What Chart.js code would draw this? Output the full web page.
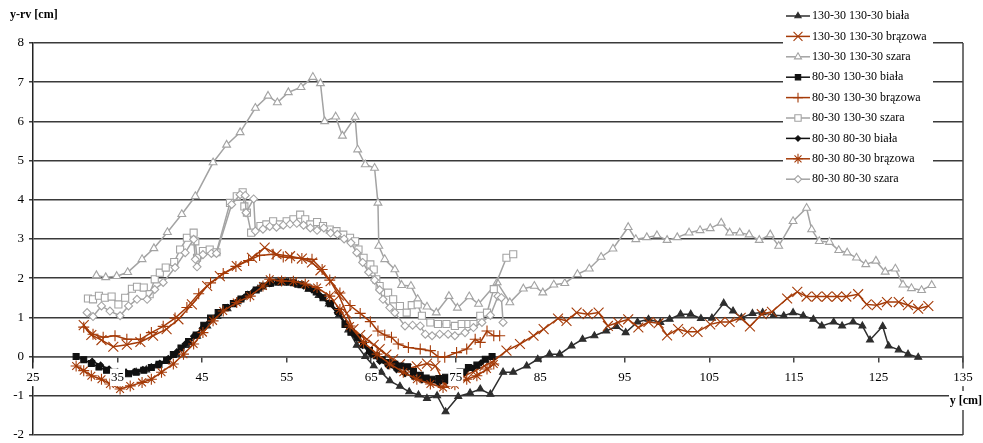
<!DOCTYPE html>
<html>
<head>
<meta charset="utf-8">
<script src="https://cdn.jsdelivr.net/npm/chart.js@4/dist/chart.umd.min.js"></script>
<style>
  body { margin: 0; background: #fff; }
  canvas { display: block; }
</style>
</head>
<body>
<canvas id="myChart" width="983" height="443"></canvas>
<script>
// pomiary: [y (cm), y-rv (cm)]
const s130_130_biala = [
  [36.0,-0.42],[37.2,-0.40],[38.4,-0.34],[39.6,-0.24],[40.8,-0.12],[42.0,0.05],[43.2,0.28],[44.4,0.52],
  [45.6,0.78],[46.8,1.02],[48.0,1.22],[49.2,1.40],[50.4,1.56],[51.6,1.72],[52.8,1.84],[54.0,1.88],
  [55.2,1.88],[56.4,1.82],[57.6,1.72],[58.8,1.56],[60.0,1.34],[61.2,1.06],[62.3,0.68],[63.3,0.29],
  [64.3,0.00],[65.3,-0.24],[66.2,-0.40],[67.2,-0.62],[68.4,-0.76],[69.5,-0.90],[70.6,-0.98],[71.6,-1.07],
  [72.8,-1.00],[73.8,-1.41],[75.3,-1.02],[76.7,-0.93],[77.9,-0.83],[79.1,-0.96],[80.6,-0.40],[81.8,-0.40],
  [83.4,-0.24],[84.7,-0.07],[86.1,0.06],[87.3,0.06],[88.7,0.27],[90.0,0.44],[91.4,0.53],[92.8,0.65],
  [94.0,0.77],[95.1,0.61],[96.5,0.88],[97.8,0.95],[99.2,0.87],[100.3,0.95],[101.6,1.08],[102.8,1.08],
  [104.0,0.97],[105.3,0.98],[106.7,1.36],[107.8,1.16],[108.8,0.99],[110.1,1.10],[111.3,1.12],[112.6,1.05],
  [113.8,1.04],[114.9,1.12],[116.1,1.04],[117.3,0.95],[118.3,0.78],[119.7,0.88],[120.7,0.78],[122.0,0.88],
  [123.1,0.78],[124.0,0.42],[125.5,0.77],[126.2,0.27],[127.4,0.17],[128.5,0.06],[129.7,-0.02]
];
const s130_130_brazowa = [
  [31.0,0.80],[31.9,0.55],[33.1,0.42],[34.5,0.25],[36.1,0.30],[37.7,0.37],[39.2,0.53],[40.8,0.70],
  [42.2,0.95],[43.8,1.33],[45.6,1.80],[47.1,2.05],[49.1,2.31],[50.9,2.52],[52.4,2.78],[53.8,2.61],
  [55.4,2.56],[56.8,2.50],[58.0,2.40],[59.0,2.20],[60.2,1.92],[61.2,1.55],[62.1,1.10],[62.9,0.70],
  [63.7,0.55],[64.5,0.44],[65.3,0.30],[66.0,0.19],[66.8,0.05],[67.6,-0.07],[68.4,-0.20],[69.2,-0.32],
  [70.4,-0.25],[71.6,-0.18],[72.6,-0.24],[73.7,-0.70],[74.8,-0.62],[76.0,-0.50],[77.3,-0.36],[78.4,-0.24],
  [79.5,-0.11],[81.0,0.15],[82.6,0.32],[84.2,0.53],[85.4,0.70],[87.1,0.97],[88.1,0.91],[89.3,1.12],
  [90.6,1.08],[91.9,1.12],[93.0,0.78],[94.2,0.87],[95.4,0.95],[96.6,0.74],[97.8,0.88],[99.0,0.85],
  [100.0,0.54],[101.3,0.70],[102.4,0.63],[103.6,0.63],[105.1,0.82],[106.3,0.88],[107.4,0.88],[108.7,0.99],
  [109.8,0.77],[111.2,1.08],[112.4,1.14],[114.2,1.48],[115.4,1.65],[116.5,1.53],[117.7,1.53],[118.9,1.53],
  [120.1,1.53],[121.2,1.53],[122.6,1.59],[123.6,1.33],[124.8,1.31],[126.0,1.39],[127.4,1.39],[128.5,1.31],
  [129.7,1.22],[130.9,1.29]
];
const s130_130_szara = [
  [32.5,2.07],[33.6,2.02],[34.9,2.05],[36.2,2.15],[37.9,2.48],[39.3,2.76],[40.9,3.17],[42.6,3.63],
  [44.2,4.09],[46.3,4.95],[47.9,5.40],[49.5,5.72],[51.3,6.34],[52.8,6.65],[53.9,6.48],[55.2,6.74],
  [56.7,6.87],[58.1,7.13],[59.0,6.97],[59.5,6.00],[60.8,6.12],[61.6,5.63],[63.1,6.11],[63.4,5.28],
  [64.3,4.90],[65.4,4.81],[65.8,3.92],[65.9,2.82],[66.6,2.48],[67.8,2.22],[68.6,1.82],[69.7,1.80],
  [70.5,1.46],[71.6,1.27],[72.7,1.12],[74.2,1.54],[75.2,1.24],[76.6,1.53],[77.7,1.34],[79.9,1.89],
  [81.4,1.38],[83.0,1.73],[84.3,1.80],[85.3,1.63],[86.6,1.83],[87.9,1.87],[89.4,2.10],[90.8,2.24],
  [92.2,2.54],[93.6,2.75],[95.4,3.30],[96.3,2.99],[97.6,3.04],[98.8,3.09],[100.0,2.97],[101.2,3.04],
  [102.6,3.16],[103.9,3.22],[105.1,3.27],[106.4,3.41],[107.4,3.16],[108.6,3.16],[109.7,3.11],[110.9,2.97],
  [112.2,3.11],[113.2,2.82],[114.9,3.45],[116.5,3.79],[117.1,3.24],[118.0,2.94],[119.2,2.92],[120.3,2.71],
  [121.3,2.65],[122.4,2.52],[123.5,2.35],[124.7,2.44],[125.8,2.16],[127.0,2.24],[127.9,1.83],[128.9,1.74],
  [130.1,1.69],[131.3,1.82]
];
const s80_130_biala = [
  [30.1,0.00],[31.0,-0.08],[31.9,-0.18],[32.8,-0.27],[33.7,-0.35],[34.6,-0.40],[35.5,-0.43],[36.3,-0.44],
  [37.2,-0.40],[38.1,-0.35],[39.0,-0.28],[39.9,-0.20],[40.8,-0.10],[41.6,0.05],[42.5,0.22],[43.4,0.38],
  [44.3,0.55],[45.2,0.80],[46.0,0.98],[46.9,1.12],[47.8,1.25],[48.7,1.35],[49.6,1.47],[50.5,1.58],
  [51.4,1.70],[52.2,1.80],[53.1,1.87],[54.0,1.90],[54.9,1.90],[55.8,1.88],[56.7,1.83],[57.6,1.75],
  [58.5,1.65],[59.3,1.50],[60.2,1.35],[61.1,1.15],[61.9,0.82],[62.6,0.62],[63.4,0.48],[64.1,0.30],
  [64.8,0.15],[65.6,0.02],[66.3,-0.08],[67.0,-0.15],[67.8,-0.20],[68.5,-0.24],[69.3,-0.26],[70.0,-0.38],
  [70.8,-0.48],[71.5,-0.55],[72.2,-0.58],[73.0,-0.56],[73.8,-0.53],[74.6,-0.45],[75.5,-0.38],[76.5,-0.28],
  [77.5,-0.22],[78.5,-0.07],[79.3,0.00]
];
const s80_130_brazowa = [
  [31.0,0.75],[32.1,0.57],[33.3,0.49],[34.7,0.53],[36.1,0.44],[37.7,0.44],[39.0,0.61],[40.4,0.77],
  [41.8,0.98],[43.2,1.25],[44.6,1.60],[46.0,1.88],[47.5,2.12],[49.0,2.30],[50.5,2.45],[51.8,2.58],
  [53.4,2.61],[54.6,2.54],[55.6,2.52],[56.8,2.50],[58.0,2.48],[59.2,2.22],[60.1,1.95],[61.3,1.62],
  [62.5,1.30],[63.7,1.10],[64.9,0.89],[65.8,0.65],[66.6,0.55],[67.4,0.49],[68.2,0.32],[69.4,0.23],
  [70.8,0.19],[72.0,0.15],[72.9,0.00],[73.7,-0.02],[75.1,0.10],[76.3,0.19],[77.3,0.44],[77.9,0.36],
  [78.7,0.65],[79.5,0.53],[80.2,0.53]
];
const s80_130_szara = [
  [31.5,1.48],[32.1,1.46],[32.8,1.55],[33.5,1.50],[34.3,1.53],[35.1,1.33],[35.9,1.50],[36.7,1.73],
  [37.3,1.78],[38.1,1.76],[38.8,1.59],[39.4,1.97],[40.0,2.14],[40.7,2.27],[41.7,2.41],[42.4,2.73],
  [43.2,3.03],[44.0,3.16],[44.2,2.94],[44.4,2.52],[45.1,2.69],[45.9,2.73],[46.7,2.66],[48.3,3.92],
  [49.1,4.09],[49.8,4.19],[50.0,3.83],[50.3,3.67],[50.8,3.16],[51.9,3.33],[52.6,3.37],[53.4,3.45],
  [54.2,3.37],[55.0,3.45],[55.8,3.50],[56.6,3.62],[57.2,3.50],[57.8,3.37],[58.6,3.43],[59.3,3.33],
  [60.1,3.24],[60.9,3.20],[61.7,3.11],[62.5,3.03],[63.1,2.94],[63.5,2.73],[64.1,2.52],[64.9,2.35],
  [65.3,2.22],[65.6,1.97],[66.0,1.80],[67.0,1.63],[67.6,1.46],[68.4,1.29],[69.2,1.12],[69.8,1.31],
  [70.5,1.33],[71.0,1.04],[72.0,0.87],[72.9,0.83],[73.9,0.83],[74.9,0.78],[75.7,0.83],[76.5,0.83],
  [77.1,0.83],[77.9,1.04],[78.7,1.12],[79.5,1.72],[81.0,2.52],[81.8,2.61]
];
const s80_80_biala = [
  [32.0,-0.12],[33.0,-0.22],[34.0,-0.32],[35.0,-0.38],[36.0,-0.40],[37.0,-0.38],[38.0,-0.33],[39.0,-0.26],
  [40.0,-0.17],[41.0,-0.05],[42.0,0.12],[43.0,0.32],[44.0,0.52],[45.0,0.72],[46.0,0.92],[47.0,1.10],
  [48.0,1.25],[49.0,1.38],[50.0,1.52],[51.0,1.65],[52.0,1.77],[53.0,1.86],[54.0,1.90],[55.0,1.90],
  [56.0,1.86],[57.0,1.80],[58.0,1.70],[59.0,1.55],[60.0,1.36],[61.0,1.12],[62.0,0.85],[63.0,0.55],
  [64.0,0.28],[65.0,0.05],[66.0,-0.12],[67.0,-0.24],[68.0,-0.34],[69.0,-0.44],[70.0,-0.52],[71.0,-0.60],
  [72.0,-0.65],[73.0,-0.68],[74.0,-0.62],[75.0,-0.52],[76.0,-0.42],[77.0,-0.30],[78.0,-0.16]
];
const s80_80_brazowa = [
  [30.1,-0.24],[31.0,-0.36],[31.9,-0.49],[33.1,-0.58],[34.1,-0.70],[35.3,-0.83],[36.5,-0.75],[37.9,-0.66],
  [39.0,-0.58],[40.2,-0.40],[41.6,-0.19],[42.8,0.06],[44.0,0.32],[45.1,0.61],[46.3,0.91],[47.5,1.16],
  [49.1,1.38],[50.7,1.54],[52.2,1.80],[53.0,1.97],[54.4,1.93],[55.8,1.92],[57.2,1.85],[58.6,1.76],
  [60.1,1.54],[61.3,1.20],[62.5,0.78],[64.1,0.36],[65.7,0.06],[67.2,-0.19],[68.8,-0.40],[70.4,-0.58],
  [72.0,-0.70],[73.5,-0.79],[74.9,-0.72],[76.3,-0.58],[77.5,-0.49],[78.7,-0.32],[79.5,-0.19]
];
const s80_80_szara = [
  [31.4,1.12],[32.1,1.02],[33.1,1.29],[34.1,1.16],[35.3,1.04],[36.3,1.29],[37.3,1.46],[38.5,1.46],
  [39.4,1.71],[40.4,1.89],[41.8,2.27],[43.0,2.65],[44.0,2.99],[44.2,2.48],[44.4,2.29],[45.1,2.60],
  [46.1,2.63],[46.7,2.63],[48.5,3.88],[49.5,4.13],[50.1,4.11],[50.2,3.67],[51.1,4.02],[51.3,3.20],
  [52.2,3.25],[53.0,3.32],[53.8,3.30],[54.6,3.35],[55.4,3.38],[56.2,3.40],[57.0,3.35],[57.8,3.28],
  [58.6,3.22],[59.4,3.28],[60.2,3.15],[61.0,3.12],[61.8,3.00],[62.6,2.90],[63.3,2.65],[64.0,2.40],
  [64.7,2.15],[65.4,1.95],[66.0,1.70],[66.4,1.46],[67.2,1.25],[67.8,1.12],[69.0,0.78],[69.9,0.80],
  [70.8,0.78],[71.4,0.57],[72.2,0.53],[73.1,0.57],[74.1,0.57],[74.9,0.53],[76.1,0.61],[77.1,0.74],
  [78.1,0.87],[79.1,1.05],[80.0,1.54],[80.4,1.50],[80.6,0.87]
];

const seriesNames = [
  '130-30 130-30 biała', '130-30 130-30 brązowa', '130-30 130-30 szara',
  '80-30 130-30 biała', '80-30 130-30 brązowa', '80-30 130-30 szara',
  '80-30 80-30 biała', '80-30 80-30 brązowa', '80-30 80-30 szara'
];
const seriesData = [
  s130_130_biala, s130_130_brazowa, s130_130_szara,
  s80_130_biala, s80_130_brazowa, s80_130_szara,
  s80_80_biala, s80_80_brazowa, s80_80_szara
];
const xTicks = { min: 25, max: 135, step: 10 };
const yTicks = { min: -2, max: 8, step: 1 };

const DARK = '#2e2e2e', BLACK = '#111111', BROWN = '#a53b08', GRAY = '#a3a3a3';
const styles = [
  { color: DARK,  point: 'triangle', r: 4,   fill: DARK },
  { color: BROWN, point: 'crossRot', r: 7,   fill: BROWN },
  { color: GRAY,  point: 'triangle', r: 4.5, fill: '#fff' },
  { color: BLACK, point: 'rect',     r: 4.2, fill: BLACK },
  { color: BROWN, point: 'cross',    r: 5.5, fill: BROWN },
  { color: GRAY,  point: 'rect',     r: 5,   fill: '#fff' },
  { color: BLACK, point: 'rectRot',  r: 3,   fill: BLACK },
  { color: BROWN, point: 'star',     r: 5.5, fill: BROWN },
  { color: GRAY,  point: 'rectRot',  r: 4,   fill: '#fff' }
];

const FONT = 'Liberation Serif, Times New Roman, serif';

const datasets = seriesData.map((d, i) => ({
  label: seriesNames[i],
  data: d.map(p => ({ x: p[0], y: p[1] })),
  showLine: true,
  borderColor: styles[i].color,
  borderWidth: 1.5,
  pointStyle: styles[i].point,
  pointRadius: styles[i].r,
  pointBackgroundColor: styles[i].fill,
  pointBorderColor: styles[i].color,
  pointBorderWidth: 1.1,
  tension: 0,
  order: 8 - i
}));

const framePlugin = {
  id: 'frame',
  beforeDatasetsDraw(chart) {
    const { ctx, chartArea: a } = chart;
    ctx.save();
    ctx.strokeStyle = '#444';
    ctx.lineWidth = 1.5;
    ctx.beginPath();
    ctx.moveTo(a.right, a.top);
    ctx.lineTo(a.right, a.bottom);
    ctx.stroke();
    ctx.restore();
  },
  afterDraw(chart) {
    const { ctx } = chart;
    ctx.save();
    // legenda
    ctx.fillStyle = '#fff';
    ctx.fillRect(783, 4, 150, 186);
    ctx.font = '12px ' + FONT;
    ctx.textBaseline = 'middle';
    seriesNames.forEach((name, i) => {
      const y = 16 + i * 20.4;
      const s = styles[i];
      ctx.strokeStyle = s.color;
      ctx.lineWidth = 1.5;
      ctx.beginPath();
      ctx.moveTo(786, y);
      ctx.lineTo(810, y);
      ctx.stroke();
      ctx.fillStyle = s.fill;
      ctx.lineWidth = 1.1;
      Chart.helpers.drawPoint(ctx, { pointStyle: s.point, radius: s.r * 0.9, rotation: 0, borderWidth: 1.1 }, 798, y);
      ctx.fillStyle = '#000';
      ctx.fillText(name, 812, y);
    });
    // tytuły osi
    ctx.font = 'bold 12px ' + FONT;
    ctx.fillStyle = '#000';
    ctx.textAlign = 'left';
    ctx.fillText('y-rv [cm]', 10, 15);
    ctx.fillStyle = '#fff';
    ctx.fillRect(949, 391, 34, 19);
    ctx.fillStyle = '#000';
    ctx.textAlign = 'right';
    ctx.fillText('y [cm]', 982, 401);
    ctx.restore();
  }
};

const ctx = document.getElementById('myChart').getContext('2d');
new Chart(ctx, {
  type: 'scatter',
  data: { datasets },
  options: {
    responsive: false,
    animation: false,
    layout: { padding: { top: 43, right: 20, bottom: 7, left: 0 } },
    plugins: { legend: { display: false }, tooltip: { enabled: false } },
    scales: {
      x: {
        type: 'linear',
        min: xTicks.min,
        max: xTicks.max,
        position: { y: 0 },
        ticks: {
          stepSize: xTicks.step,
          color: '#000',
          font: { family: FONT, size: 13 },
          padding: 8,
          z: 1,
          showLabelBackdrop: true,
          backdropColor: '#fff',
          backdropPadding: 1
        },
        grid: { drawOnChartArea: false, drawTicks: true, tickLength: 5, color: '#444', lineWidth: 1.5 },
        border: { display: true, color: '#555', width: 1.5 },
        afterFit(scale) { scale.paddingTop = 0; scale.paddingBottom = 0; }
      },
      y: {
        min: yTicks.min,
        max: yTicks.max,
        ticks: {
          stepSize: yTicks.step,
          color: '#000',
          font: { family: FONT, size: 13 },
          padding: 5
        },
        grid: { color: '#3a3a3a', lineWidth: 1.5, tickLength: 4 },
        border: { display: true, color: '#222', width: 1.5 },
        afterFit(scale) { scale.width = 33; scale.paddingTop = 0; scale.paddingBottom = 0; }
      }
    }
  },
  plugins: [framePlugin]
});
</script>
</body>
</html>
